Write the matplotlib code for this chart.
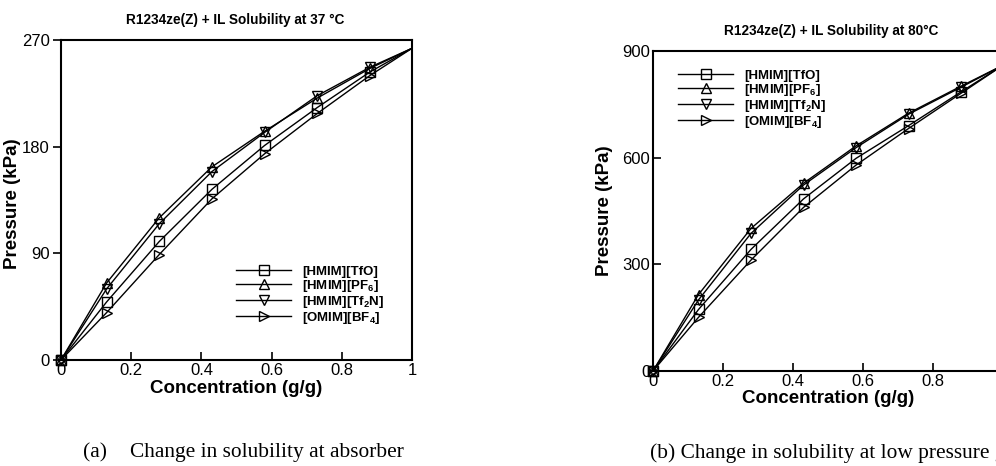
import numpy as np
import matplotlib
matplotlib.use("Agg")
import matplotlib.pyplot as plt

plt.rcParams['font.family'] = ['Liberation Sans', 'DejaVu Sans']
plt.rcParams['mathtext.fontset'] = 'custom'
plt.rcParams['mathtext.rm'] = 'Liberation Sans'
plt.rcParams['mathtext.bf'] = 'Liberation Sans:bold'

# concentration points (g/g)
conc = [0.0, 0.13, 0.28, 0.43, 0.58, 0.73, 0.88, 1.0]

names = [r'[HMIM][TfO]', r'[HMIM][PF$_\mathbf{6}$]',
         r'[HMIM][Tf$_\mathbf{2}$N]', r'[OMIM][BF$_\mathbf{4}$]']
markers = ['s', '^', 'v', '>']

# absorber, 37 C (kPa)
p37_tfo = [0, 49, 100, 144, 181, 213, 243, 263]
p37_pf6 = [0, 65, 120, 163, 193, 221, 246, 263]
p37_tf2n = [0, 60, 115, 159, 192, 223, 247, 263]
p37_bf4 = [0, 40, 89, 136, 174, 208, 240, 263]

# low pressure generator, 80 C (kPa)
p80_tfo = [0, 173, 342, 484, 598, 690, 785, 860]
p80_pf6 = [0, 215, 401, 528, 633, 725, 801, 860]
p80_tf2n = [0, 200, 387, 523, 628, 722, 798, 860]
p80_bf4 = [0, 151, 312, 460, 579, 682, 781, 860]

W, H = 996, 466
fig = plt.figure(figsize=(W / 100, H / 100), dpi=100)


def px_axes(l, t, r, b):
    return fig.add_axes([l / W, 1 - b / H, (r - l) / W, (b - t) / H])


def draw(ax, series, ymax, yticks, ydir):
    for ys, m, lab in zip(series, markers, names):
        ax.plot(conc, ys, color='black', lw=1.0, marker=m, ms=7,
                mfc='none', mec='black', mew=1.0, markevery=list(range(7)),
                label=lab, clip_on=False, zorder=3)
    ax.set_xlim(0, 1)
    ax.set_ylim(0, ymax)
    ax.set_xticks([0, 0.2, 0.4, 0.6, 0.8, 1.0])
    ax.set_xticklabels(['0', '0.2', '0.4', '0.6', '0.8', '1'])
    ax.set_yticks(yticks)
    for s in ax.spines.values():
        s.set_linewidth(1.5)
    ax.tick_params(axis='x', direction='in', length=6, width=1.2,
                   labelsize=12, pad=2)
    ax.tick_params(axis='y', direction=ydir, length=6, width=1.2,
                   labelsize=12, pad=2)
    ax.set_xlabel('Concentration (g/g)', fontsize=13.5, fontweight='bold')
    ax.set_ylabel('Pressure (kPa)', fontsize=13.5, fontweight='bold')


leg_kw = dict(loc='upper left', frameon=False, handlelength=4.2,
              handletextpad=0.8, labelspacing=0.0, borderpad=0,
              prop={'size': 9.5, 'weight': 'bold'}, numpoints=1)

ax1 = px_axes(61, 40, 412, 360)
draw(ax1, [p37_tfo, p37_pf6, p37_tf2n, p37_bf4], 270, [0, 90, 180, 270], 'out')
ax1.xaxis.set_label_coords(0.5, -0.0625)
ax1.yaxis.set_label_coords(-0.114, 0.49)
ax1.legend(bbox_to_anchor=(0.48, 0.315), **leg_kw)
fig.text(235 / W, 1 - 20 / H, 'R1234ze(Z) + IL Solubility at 37 °C',
         ha='center', va='center', fontsize=9.8, fontweight='bold')

ax2 = px_axes(653, 51, 1003, 371)
draw(ax2, [p80_tfo, p80_pf6, p80_tf2n, p80_bf4], 900, [0, 300, 600, 900], 'in')
ax2.xaxis.set_label_coords(0.5, -0.059)
ax2.yaxis.set_label_coords(-0.114, 0.5)
ax2.legend(bbox_to_anchor=(0.052, 0.962), **leg_kw)
fig.text(831 / W, 1 - 31 / H, 'R1234ze(Z) + IL Solubility at 80°C',
         ha='center', va='center', fontsize=9.8, fontweight='bold')

cap = dict(fontsize=15.4, family='Liberation Serif', va='center', ha='left')
fig.text(83 / W, 1 - 453 / H, '(a)', **cap)
fig.text(130 / W, 1 - 453 / H, 'Change in solubility at absorber', **cap)
fig.text(650 / W, 1 - 453 / H,
         '(b) Change in solubility at low pressure generator', **cap)

fig.savefig('out.png', dpi=100)
